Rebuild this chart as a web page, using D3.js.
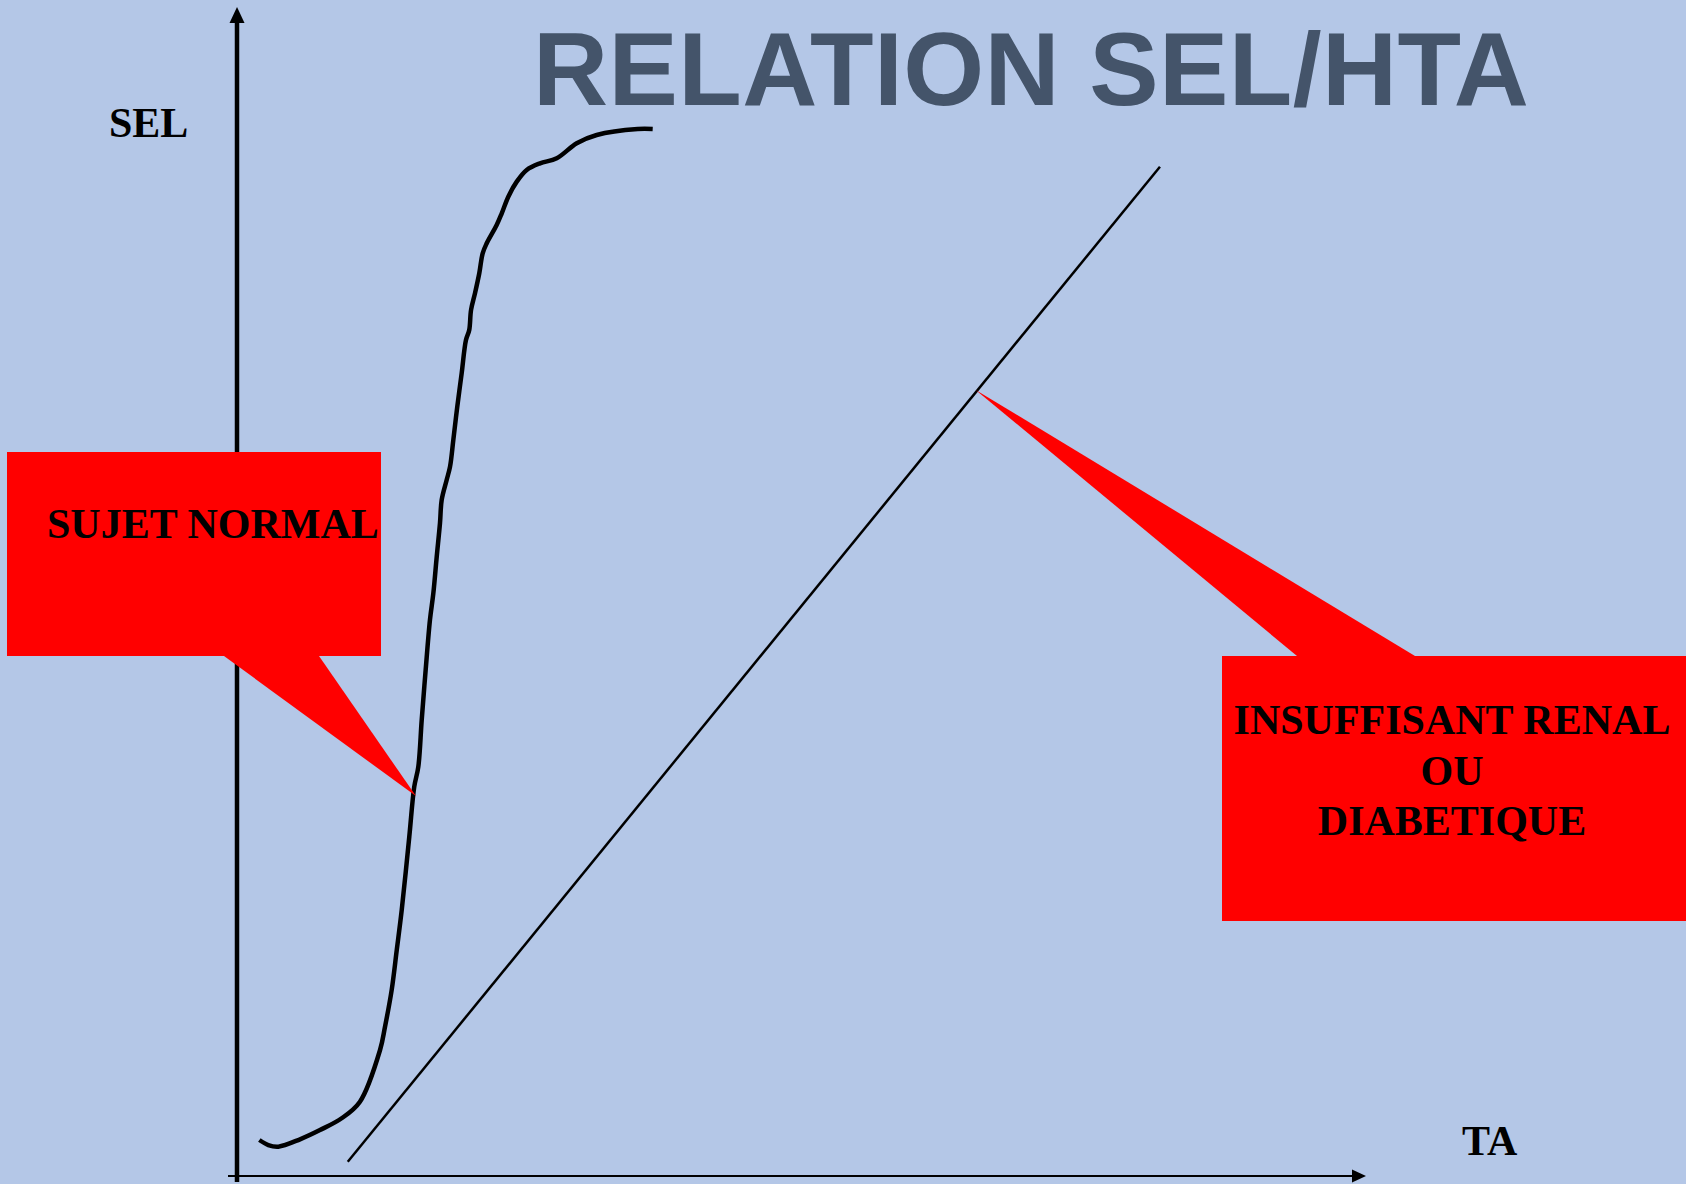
<!DOCTYPE html>
<html>
<head>
<meta charset="utf-8">
<script src="https://cdn.jsdelivr.net/npm/d3@7"></script>
<style>
    html, body { margin: 0; padding: 0; background: #B4C7E7; }
    svg { display: block; }
</style>
</head>
<body>
<div id="chart"></div>
<script>
// Values are in chart units: TA (x) and SEL (y), 0-100 on each axis
var normalTA  = [1.98, 2.77, 3.66, 5.58, 7.35, 9.27, 10.89, 12.67, 13.11, 13.70, 14.15, 14.59, 15.26, 15.70, 16.06,
                 16.36, 16.71, 17.09, 17.39, 17.69, 17.98, 18.13, 18.57, 18.87, 19.16, 19.51, 19.90, 20.28, 20.57,
                 20.73, 21.08, 21.46, 21.76, 22.12, 23.00, 23.45, 24.03, 24.78, 25.66, 26.84, 28.32, 30.09, 31.86,
                 35.49, 36.82];
var normalSEL = [3.08, 2.65, 2.51, 3.14, 3.93, 4.94, 6.36, 10.78, 12.77, 15.91, 19.33, 22.75, 29.02, 33.30, 35.01,
                 39.01, 43.28, 47.56, 49.84, 52.97, 55.86, 57.83, 59.54, 60.68, 62.96, 65.81, 68.67, 71.51, 72.37,
                 74.08, 75.51, 77.22, 78.93, 79.79, 81.35, 82.35, 83.77, 85.06, 86.06, 86.63, 87.06, 88.34, 89.05,
                 89.56, 89.56];

var renalTA  = [9.81, 81.75];
var renalSEL = [1.22, 86.34];

var title = "RELATION SEL/HTA";
var yLabel = "SEL";
var xLabel = "TA";

// callout texts and the point on each series they point at
var calloutLines = [["SUJET NORMAL"], ["INSUFFISANT RENAL", "OU", "DIABETIQUE"]];
var calloutTA  = [15.85, 65.43];
var calloutSEL = [32.5, 67.24];

function init() {

    var w = 1686;
    var h = 1184;

    var svg = d3.select("#chart")
                .append("svg")
                .attr("width", w)
                .attr("height", h);

    svg.append("rect")
        .attr("width", w)
        .attr("height", h)
        .attr("fill", "#B4C7E7");

    var x = d3.scaleLinear().domain([0, 100]).range([237, 1366]);
    var y = d3.scaleLinear().domain([0, 100]).range([1176, 7]);

    // title
    svg.append("text")
        .attr("x", 533)
        .attr("y", 105)
        .style("font-family", "'Liberation Sans', Arial, sans-serif")
        .style("font-weight", "bold")
        .style("font-size", "104px")
        .style("letter-spacing", "0.4px")
        .attr("fill", "#44546A")
        .text(title);

    // axes with arrow heads
    var ax = svg.append("g");
    ax.append("line")
        .attr("x1", x(0)).attr("x2", x(0))
        .attr("y1", y(0) + 6).attr("y2", y(100) + 12)
        .attr("stroke", "#000").attr("stroke-width", 4.5);
    ax.append("path")
        .attr("d", "M" + x(0) + "," + y(100) + "L" + (x(0) - 7.5) + "," + (y(100) + 16) + "L" + (x(0) + 7.5) + "," + (y(100) + 16) + "Z")
        .attr("fill", "#000");

    ax.append("line")
        .attr("x1", x(0) - 9).attr("x2", x(100) - 10)
        .attr("y1", y(0)).attr("y2", y(0))
        .attr("stroke", "#000").attr("stroke-width", 2);
    ax.append("path")
        .attr("d", "M" + x(100) + "," + y(0) + "L" + (x(100) - 14) + "," + (y(0) - 6.5) + "L" + (x(100) - 14) + "," + (y(0) + 6.5) + "Z")
        .attr("fill", "#000");

    var labelFont = "'Liberation Serif', 'Times New Roman', serif";

    svg.append("text")
        .attr("x", 109).attr("y", 137)
        .style("font-family", labelFont)
        .style("font-weight", "bold")
        .style("font-size", "42px")
        .text(yLabel);

    svg.append("text")
        .attr("x", 1462).attr("y", 1155)
        .style("font-family", labelFont)
        .style("font-weight", "bold")
        .style("font-size", "42px")
        .text(xLabel);

    // the two series
    var normal = normalTA.map(function(d, i) { return [d, normalSEL[i]]; });
    var renal = renalTA.map(function(d, i) { return [d, renalSEL[i]]; });

    var line = d3.line()
                .x(function(d) { return x(d[0]); })
                .y(function(d) { return y(d[1]); })
                .curve(d3.curveCatmullRom);

    svg.append("path")
        .datum(normal)
        .attr("d", line)
        .attr("fill", "none")
        .attr("stroke", "#000")
        .attr("stroke-width", 4.5)
        .attr("stroke-linejoin", "round");

    svg.append("path")
        .datum(renal)
        .attr("d", d3.line().x(function(d) { return x(d[0]); }).y(function(d) { return y(d[1]); }))
        .attr("fill", "none")
        .attr("stroke", "#000")
        .attr("stroke-width", 2.5);

    // callout boxes (layout in pixels)
    var boxes = [
        { x0: 7, y0: 452, x1: 381, y1: 656, tail: [224, 319], textX: 47, anchor: "start", base: 538 },
        { x0: 1222, y0: 656, x1: 1690, y1: 921, tail: [1297, 1415], textX: 1452, anchor: "middle", base: 734 }
    ];

    boxes.forEach(function(b, i) {
        var g = svg.append("g");
        var tx = x(calloutTA[i]);
        var ty = y(calloutSEL[i]);
        var ty0 = b.y0 > ty ? b.y0 : b.y1;
        g.append("path")
            .attr("d", "M" + b.tail[0] + "," + ty0 + "L" + tx + "," + ty + "L" + b.tail[1] + "," + ty0 + "Z")
            .attr("fill", "#FF0000");
        g.append("rect")
            .attr("x", b.x0).attr("y", b.y0)
            .attr("width", b.x1 - b.x0).attr("height", b.y1 - b.y0)
            .attr("fill", "#FF0000");
        calloutLines[i].forEach(function(t, j) {
            g.append("text")
                .attr("x", b.textX)
                .attr("y", b.base + j * 50.5)
                .attr("text-anchor", b.anchor)
                .style("font-family", labelFont)
                .style("font-weight", "bold")
                .style("font-size", "42px")
                .text(t);
        });
    });
}

window.onload = init;
</script>
</body>
</html>
